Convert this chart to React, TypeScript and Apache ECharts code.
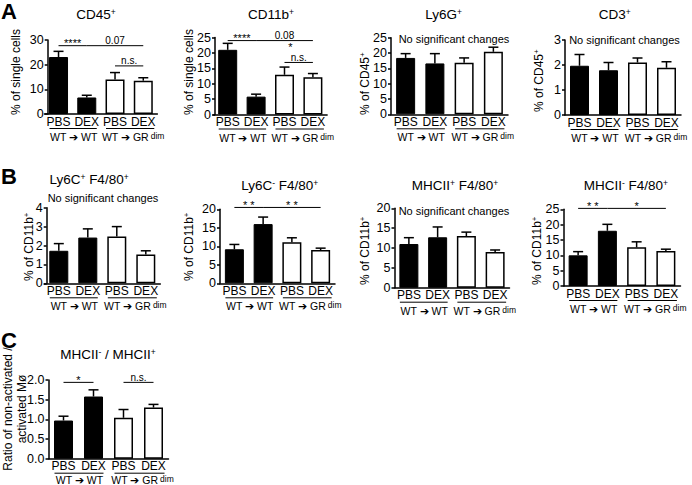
import React, { useEffect, useRef } from 'react';
import * as echarts from 'echarts';

const FONT = '"Liberation Sans", Arial, Helvetica, sans-serif';

// ---- categories / labels ----
const categories = ['PBS', 'DEX', 'PBS', 'DEX'];
const groupLabels = ['WT ➔ WT', 'WT ➔ GR{d|dim}'];
const panelLetters = ['A', 'B', 'C'];
const noteText = 'No significant changes';

const panelTitles = [
  'CD45{s|+}', 'CD11b{s|+}', 'Ly6G{s|+}', 'CD3{s|+}',
  'Ly6C{s|+} F4/80{s|+}', 'Ly6C{s|-} F4/80{s|+}', 'MHCII{s|+} F4/80{s|+}', 'MHCII{s|-} F4/80{s|+}',
  'MHCII{s|-} / MHCII{s|+}',
];
const yTitles = [
  '% of single cells', '% of single cells', '% of CD45{s|+}', '% of CD45{s|+}',
  '% of CD11b{s|+}', '% of CD11b{s|+}', '% of CD11b{s|+}', '% of CD11b{s|+}',
  'Ratio of non-activated /\nactivated Mø',
];

// ---- axis ranges ----
const yMax = [30, 25, 25, 3, 4, 20, 20, 25, 2];
const yInterval = [10, 5, 5, 1, 1, 5, 5, 5, 0.5];
const yDecimals = [0, 0, 0, 0, 0, 0, 0, 0, 1];

// ---- values: mean and upper error (mean + SEM) ----
const cd45Mean = [23.1, 6.7, 14.0, 13.5];
const cd45Err = [25.4, 7.6, 16.8, 14.7];
const cd11bMean = [21.0, 5.8, 12.9, 12.1];
const cd11bErr = [23.1, 6.6, 15.4, 13.3];
const ly6gMean = [18.4, 16.6, 16.8, 20.4];
const ly6gErr = [19.8, 19.8, 18.4, 21.9];
const cd3Mean = [1.97, 1.79, 2.1, 1.89];
const cd3Err = [2.42, 2.1, 2.28, 2.13];
const ly6cPosMean = [1.72, 2.42, 2.48, 1.52];
const ly6cPosErr = [2.1, 2.88, 3.0, 1.72];
const ly6cNegMean = [9.2, 16.0, 11.1, 9.0];
const ly6cNegErr = [10.5, 17.9, 12.3, 9.5];
const mhcPosMean = [11.0, 12.7, 13.0, 9.0];
const mhcPosErr = [12.6, 15.3, 14.0, 9.5];
const mhcNegMean = [10.0, 18.0, 12.6, 11.4];
const mhcNegErr = [11.2, 20.1, 14.4, 12.0];
const ratioMean = [0.97, 1.58, 1.04, 1.30];
const ratioErr = [1.08, 1.75, 1.25, 1.38];

// ---- significance brackets: [fromCategory, toCategory, level, label] ----
type Bracket = [number, number, number, string];
const cd45Brackets: Bracket[] = [[0, 1, 27.7, '****'], [1, 3, 27.7, '0.07'], [2, 3, 19.5, 'n.s.']];
const cd11bBrackets: Bracket[] = [[0, 1, 24.0, '****'], [1, 3, 24.0, '0.08'], [2, 3, 16.9, 'n.s.'], [2, 2, 21.2, '*']];
const ly6cNegBrackets: Bracket[] = [[0, 1, 20.5, '* *'], [1, 3, 20.5, '* *']];
const mhcNegBrackets: Bracket[] = [[0, 1, 25.3, '* *'], [1, 3, 25.3, '*']];
const ratioBrackets: Bracket[] = [[0, 1, 1.94, '*'], [2, 3, 1.94, 'n.s.']];
const noBrackets: Bracket[] = [];

const means = [cd45Mean, cd11bMean, ly6gMean, cd3Mean, ly6cPosMean, ly6cNegMean, mhcPosMean, mhcNegMean, ratioMean];
const errs = [cd45Err, cd11bErr, ly6gErr, cd3Err, ly6cPosErr, ly6cNegErr, mhcPosErr, mhcNegErr, ratioErr];
const brackets = [cd45Brackets, cd11bBrackets, noBrackets, noBrackets, noBrackets, ly6cNegBrackets, noBrackets, mhcNegBrackets, ratioBrackets];
const hasNote = [false, false, true, true, true, false, true, false, false];

// ---- layout (positions / sizes only) ----
const layouts = [
  { left: 44.4, top: 40, width: 113, height: 74, off: -3.3, tx: 96, ty: 14, nx: 16, ny: 115, nox: 0, noy: 0, gy: 23 },
  { left: 213.5, top: 37.5, width: 113.6, height: 77, off: -1.5, tx: 271, ty: 14, nx: 189, ny: 115, nox: 0, noy: 0, gy: 23 },
  { left: 391, top: 37.7, width: 117, height: 76.6, off: 0, tx: 443.7, ty: 14, nx: 365, ny: 115, nox: 454, noy: 39, gy: 23 },
  { left: 565, top: 40, width: 116, height: 75, off: 0, tx: 614.7, ty: 14, nx: 539, ny: 112, nox: 624.5, noy: 40, gy: 23 },
  { left: 44.3, top: 207.7, width: 116, height: 75.6, off: -2.4, tx: 89, ty: 179, nx: 29, ny: 281, nox: 103, noy: 198.3, gy: 23 },
  { left: 220, top: 209.3, width: 115, height: 74, off: 0, tx: 279.7, ty: 185, nx: 189, ny: 281, nox: 0, noy: 0, gy: 23 },
  { left: 394.5, top: 208.3, width: 115, height: 79.4, off: 0, tx: 455, ty: 185.7, nx: 365, ny: 285, nox: 454, noy: 210.7, gy: 23 },
  { left: 563.5, top: 209.3, width: 117, height: 76.7, off: 0, tx: 625.8, ty: 185.7, nx: 537, ny: 285, nox: 0, noy: 0, gy: 23 },
  { left: 48.5, top: 380, width: 120, height: 78.7, off: 0, tx: 108, ty: 354, nx: 15, ny: 409, nox: 0, noy: 0, gy: 21 },
];
const letterPos = [[1, 11], [1, 176], [1, 340]];

function supRich(size: number) {
  return { s: { fontSize: size, verticalAlign: 'top', fontFamily: FONT, fill: '#000' } };
}

function buildOption() {
  const grid: any[] = [];
  const xAxis: any[] = [];
  const yAxis: any[] = [];
  const series: any[] = [];
  const graphic: any[] = [];

  panelLetters.forEach((l, i) => {
    graphic.push({
      type: 'text', x: letterPos[i][0], y: letterPos[i][1], silent: true,
      style: { text: l, fontSize: 22, fontWeight: 'bold', fontFamily: FONT, fill: '#000', verticalAlign: 'middle' },
    });
  });

  means.forEach((mean, k) => {
    const L: any = layouts[k];
    const err = errs[k];
    const br = brackets[k];
    grid.push({ left: L.left, top: L.top, width: L.width, height: L.height });
    xAxis.push({
      type: 'category', gridIndex: k, data: categories,
      axisLine: { show: true, lineStyle: { color: '#000', width: 1.5 } },
      axisTick: { show: false },
      axisLabel: { color: '#000', fontSize: 12, margin: 1.5, interval: 0, fontFamily: FONT },
    });
    const dec = yDecimals[k];
    yAxis.push({
      type: 'value', gridIndex: k, min: 0, max: yMax[k], interval: yInterval[k], offset: L.off,
      axisLine: { show: true, lineStyle: { color: '#000', width: 1.5 } },
      axisTick: { show: true, length: 3, lineStyle: { color: '#000', width: 1.5 } },
      splitLine: { show: false },
      axisLabel: { color: '#000', fontSize: 12.5, margin: 4, fontFamily: FONT, formatter: (v: number) => v.toFixed(dec) },
    });
    series.push({
      type: 'bar', xAxisIndex: k, yAxisIndex: k, barWidth: 19, silent: true,
      data: mean.map((v, i) => ({
        value: v,
        itemStyle: i < 2
          ? { color: '#000', borderColor: '#000', borderWidth: 1 }
          : { color: '#fff', borderColor: '#000', borderWidth: 1.5 },
      })),
    });
    series.push({
      type: 'custom', xAxisIndex: k, yAxisIndex: k, silent: true, clip: false, z: 5,
      data: mean.map((v, i) => [i, v, err[i]]),
      renderItem: (params: any, api: any) => {
        const p0 = api.coord([api.value(0), api.value(1)]);
        const p1 = api.coord([api.value(0), api.value(2)]);
        return {
          type: 'group',
          children: [
            { type: 'line', shape: { x1: p0[0], y1: p0[1], x2: p0[0], y2: p1[1] }, style: { stroke: '#000', lineWidth: 1.5 } },
            { type: 'line', shape: { x1: p0[0] - 5, y1: p1[1], x2: p0[0] + 5, y2: p1[1] }, style: { stroke: '#000', lineWidth: 1.5 } },
          ],
        };
      },
    });
    if (br.length) {
      series.push({
        type: 'custom', xAxisIndex: k, yAxisIndex: k, silent: true, clip: false, z: 6,
        data: br.map((b) => [b[0], b[1], b[2]]),
        renderItem: (params: any, api: any) => {
          const a = api.coord([api.value(0), api.value(2)]);
          const b = api.coord([api.value(1), api.value(2)]);
          const label = br[params.dataIndex][3];
          const starOnly = /^[* ]+$/.test(label);
          const children: any[] = [];
          if (a[0] !== b[0]) {
            children.push({ type: 'line', shape: { x1: a[0], y1: a[1], x2: b[0], y2: b[1] }, style: { stroke: '#000', lineWidth: 1 } });
          }
          children.push({
            type: 'text', x: a[0] === b[0] ? a[0] + 6 : (a[0] + b[0]) / 2, y: a[1] + (starOnly ? 3 : 0),
            style: { text: label, fontSize: starOnly ? 11 : 10, fontFamily: FONT, fill: '#000', align: 'center', verticalAlign: 'bottom' },
          });
          return { type: 'group', children };
        },
      });
    }

    graphic.push({
      type: 'text', x: L.tx, y: L.ty, silent: true,
      style: { text: panelTitles[k], fontSize: 13.5, fontFamily: FONT, fill: '#000', align: 'center', verticalAlign: 'middle', rich: supRich(8.5) },
    });
    const multi = yTitles[k].indexOf('\n') >= 0;
    graphic.push({
      type: 'text', x: L.nx, y: L.ny, rotation: Math.PI / 2, silent: true,
      style: {
        text: yTitles[k], fontSize: 12, fontFamily: FONT, fill: '#000',
        align: multi ? 'center' : 'left', verticalAlign: 'middle', lineHeight: 14, rich: supRich(8),
      },
    });
    if (hasNote[k]) {
      graphic.push({
        type: 'text', x: L.nox, y: L.noy, silent: true,
        style: { text: noteText, fontSize: 11, fontFamily: FONT, fill: '#000', align: 'center', verticalAlign: 'middle' },
      });
    }
    const band = L.width / 4;
    const c = [0, 1, 2, 3].map((i) => L.left + band * (i + 0.5));
    const zeroY = L.top + L.height;
    const uy = zeroY + 14.5;
    graphic.push({ type: 'line', silent: true, shape: { x1: c[0] - 9, y1: uy, x2: c[1] + 10, y2: uy }, style: { stroke: '#000', lineWidth: 1 } });
    graphic.push({ type: 'line', silent: true, shape: { x1: c[2] - 9, y1: uy, x2: c[3] + 11, y2: uy }, style: { stroke: '#000', lineWidth: 1 } });
    graphic.push({
      type: 'text', x: (c[0] + c[1]) / 2 + 1, y: zeroY + L.gy, silent: true,
      style: { text: groupLabels[0], fontSize: 10.5, fontFamily: FONT, fill: '#000', align: 'center', verticalAlign: 'middle' },
    });
    graphic.push({
      type: 'text', x: (c[2] + c[3]) / 2 + 4, y: zeroY + L.gy, silent: true,
      style: {
        text: groupLabels[1], fontSize: 10.5, fontFamily: FONT, fill: '#000', align: 'center', verticalAlign: 'middle',
        rich: { d: { fontSize: 8.5, verticalAlign: 'top', fontFamily: FONT, fill: '#000', padding: [0, 0, 0, 2] } },
      },
    });
  });

  return {
    animation: false,
    backgroundColor: '#fff',
    textStyle: { fontFamily: FONT },
    grid, xAxis, yAxis, series, graphic,
  };
}

export default function App() {
  const ref = useRef<HTMLDivElement>(null);
  useEffect(() => {
    const chart = echarts.init(ref.current!, null, { renderer: 'svg' });
    chart.setOption(buildOption() as any);
    return () => chart.dispose();
  }, []);
  return <div ref={ref} style={{ position: 'absolute', left: 0, top: 0, width: 692, height: 485, background: '#fff' }} />;
}
